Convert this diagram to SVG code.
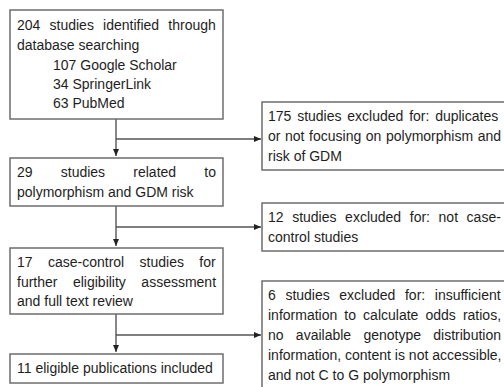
<svg xmlns="http://www.w3.org/2000/svg" width="504" height="387" viewBox="0 0 504 387">
<style>
.box{fill:#fff;stroke:#6e6e6e;stroke-width:1.5}
.t{font-family:"Liberation Sans",Arial,sans-serif;font-size:14px;fill:#1e1e1e}
.c{fill:none;stroke:#555;stroke-width:1.4}
</style>
<defs>
<marker id="ah" markerUnits="userSpaceOnUse" markerWidth="8" markerHeight="8" viewBox="0 0 8 8" refX="7" refY="4" orient="auto">
<path d="M0,1 L7,4 L0,7 z" fill="#222"/>
</marker>
</defs>
<rect width="504" height="387" fill="#fff"/>
<g id="connectors">
<path class="c" d="M116,119 V156" marker-end="url(#ah)"/>
<path class="c" d="M116,139 H261" marker-end="url(#ah)"/>
<path class="c" d="M116,206 V246" marker-end="url(#ah)"/>
<path class="c" d="M116,227 H261" marker-end="url(#ah)"/>
<path class="c" d="M116,314 V352" marker-end="url(#ah)"/>
<path class="c" d="M116,335 H261" marker-end="url(#ah)"/>
</g>
<g id="n1">
<rect class="box" x="10" y="10" width="213" height="109"/>
<text class="t" x="17" y="30" word-spacing="5.3">204 studies identified through</text>
<text class="t" x="17" y="50">database searching</text>
<text class="t" x="53" y="70">107 Google Scholar</text>
<text class="t" x="53" y="89">34 SpringerLink</text>
<text class="t" x="53" y="108">63 PubMed</text>
</g>
<g id="n2">
<rect class="box" x="10" y="158" width="213" height="48"/>
<text class="t" x="17" y="177" word-spacing="24.3">29 studies related to</text>
<text class="t" x="17" y="197">polymorphism and GDM risk</text>
</g>
<g id="n3">
<rect class="box" x="10" y="248" width="213" height="66"/>
<text class="t" x="17" y="267" word-spacing="11.5">17 case-control studies for</text>
<text class="t" x="17" y="287" word-spacing="11.6">further eligibility assessment</text>
<text class="t" x="17" y="306">and full text review</text>
</g>
<g id="n4">
<rect class="box" x="10" y="354" width="213" height="29"/>
<text class="t" x="17" y="373">11 eligible publications included</text>
</g>
<g id="n5">
<rect class="box" x="262" y="102" width="250" height="68"/>
<text class="t" x="268" y="121" word-spacing="1.9">175 studies excluded for: duplicates</text>
<text class="t" x="268" y="141" word-spacing="0.7">or not focusing on polymorphism and</text>
<text class="t" x="268" y="161">risk of GDM</text>
</g>
<g id="n6">
<rect class="box" x="262" y="203" width="250" height="48"/>
<text class="t" x="268" y="222" word-spacing="4.7">12 studies excluded for: not case-</text>
<text class="t" x="268" y="242">control studies</text>
</g>
<g id="n7">
<rect class="box" x="262" y="281" width="250" height="120"/>
<text class="t" x="268" y="300" word-spacing="5.7">6 studies excluded for: insufficient</text>
<text class="t" x="268" y="320" word-spacing="3.2">information to calculate odds ratios,</text>
<text class="t" x="268" y="340" word-spacing="8.4">no available genotype distribution</text>
<text class="t" x="268" y="360">information, content is not accessible,</text>
<text class="t" x="268" y="380">and not C to G polymorphism</text>
</g>
</svg>
